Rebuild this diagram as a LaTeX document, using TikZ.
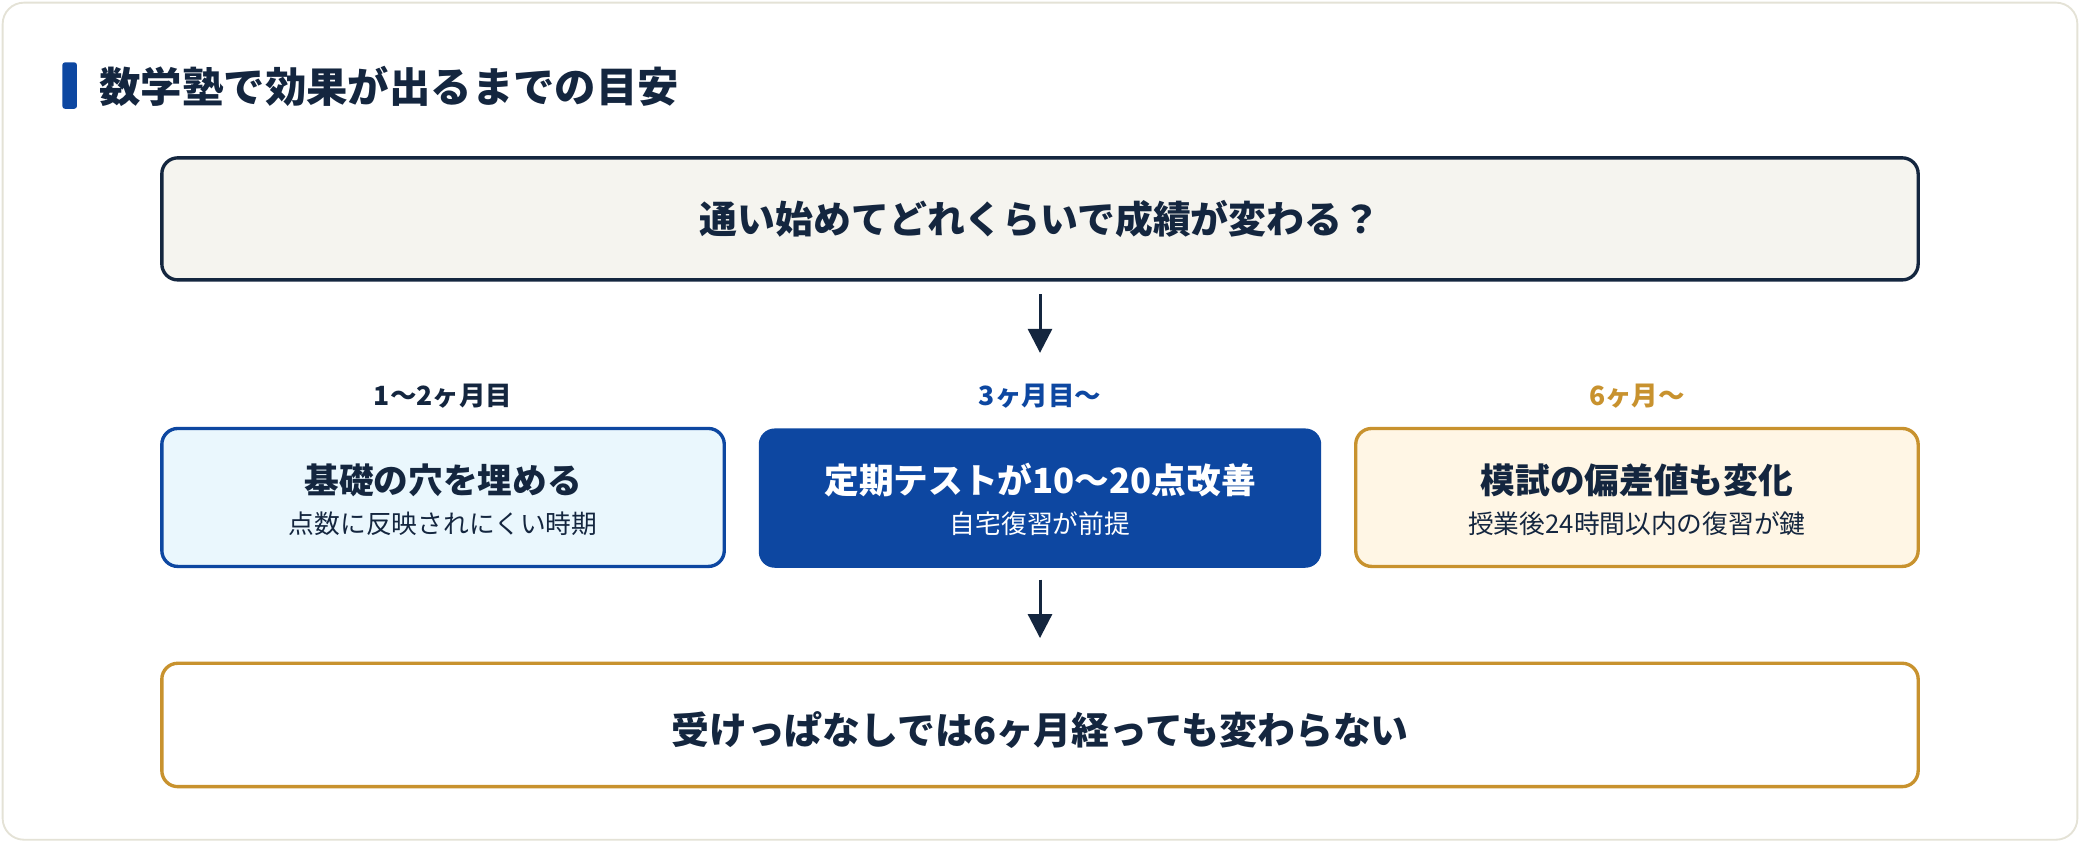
\documentclass[tikz,border=0pt]{standalone}
\usepackage{fontspec}
\setmainfont{Noto Sans CJK JP}
\usetikzlibrary{arrows.meta}
\definecolor{navy}{HTML}{14263F}
\definecolor{blu}{HTML}{0D47A1}
\definecolor{gold}{HTML}{C8922E}
\definecolor{cream}{HTML}{F5F4EF}
\definecolor{lblue}{HTML}{EAF7FD}
\definecolor{lgold}{HTML}{FFF6E5}
\definecolor{edge}{HTML}{E4E2D6}
\begin{document}
\begin{tikzpicture}[x=0.25mm,y=-0.25mm,
  box/.style={rounded corners=3mm,line width=1.8pt},
  big/.style={font=\fontsize{20.3}{24}\selectfont\bfseries,text=navy},
  lab/.style={font=\fontsize{14.2}{17}\selectfont\bfseries},
  arr/.style={-{Triangle[length=4.5mm,width=4.5mm]},line width=1.6pt,draw=navy}]
\useasboundingbox (0,0) rectangle (1568,635);
\draw[edge,fill=white,rounded corners=4mm,line width=1pt] (2,2) rectangle (1566,633);
\fill[blu,rounded corners=0.5mm] (47,47) rectangle (58,82);
\node[anchor=west,font=\fontsize{22.2}{26}\selectfont\bfseries,text=navy] (title) at (70,65) {数学塾で効果が出るまでの目安};
\draw[box,draw=navy,fill=cream] (122,119) rectangle (1446,211);
\node[big] (q) at (784,165) {通い始めてどれくらいで成績が変わる？};
\coordinate (a1s) at (784,222); \coordinate (a1e) at (784,266);
\draw[arr] (a1s) -- (a1e);
\node[lab,text=navy] (l1) at (334,299) {1〜2ヶ月目};
\node[lab,text=blu] (l2) at (784,299) {3ヶ月目〜};
\node[lab,text=gold] (l3) at (1234,299) {6ヶ月〜};
\draw[box,draw=blu,fill=lblue] (122,323) rectangle (546,427);
\fill[blu,rounded corners=3mm] (572,323) rectangle (996,428);
\draw[box,draw=gold,fill=lgold] (1022,323) rectangle (1446,427);
\node[font=\fontsize{18.6}{22}\selectfont\bfseries,text=navy] (b1) at (334,362) {基礎の穴を埋める};
\node[font=\fontsize{13.8}{16}\selectfont,text=navy] (s1) at (334,395) {点数に反映されにくい時期};
\node[font=\fontsize{18.6}{22}\selectfont\bfseries,text=white] (b2) at (784,362) {定期テストが10〜20点改善};
\node[font=\fontsize{13.8}{16}\selectfont,text=white] (s2) at (784,395) {自宅復習が前提};
\node[font=\fontsize{18.6}{22}\selectfont\bfseries,text=navy] (b3) at (1234,362) {模試の偏差値も変化};
\node[font=\fontsize{13.8}{16}\selectfont,text=navy] (s3) at (1234,395) {授業後24時間以内の復習が鍵};
\coordinate (a2s) at (784,437); \coordinate (a2e) at (784,481);
\draw[arr] (a2s) -- (a2e);
\draw[box,draw=gold,fill=white] (122,500) rectangle (1446,593);
\node[big] (r) at (784,550) {受けっぱなしでは6ヶ月経っても変わらない};
\end{tikzpicture}
\end{document}
